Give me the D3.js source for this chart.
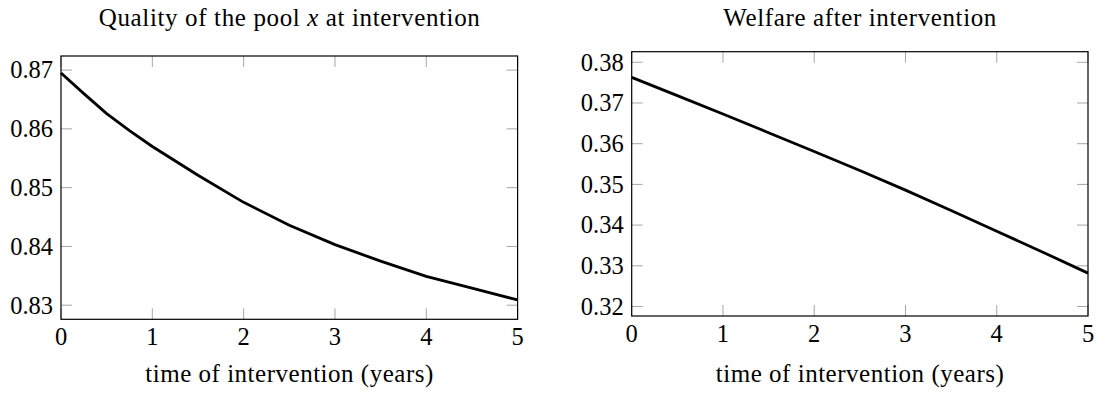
<!DOCTYPE html>
<html lang="en">

<head>
    <meta charset="UTF-8">
    <script src="https://d3js.org/d3.v7.min.js"></script>
    <title>Intervention plots</title>
    <style>
        body { margin: 0; background: #fff; }
        text { font-family: "Liberation Serif", "DejaVu Serif", serif; fill: #000; }
    </style>
</head>

<body>
    <svg class="chart"></svg>
    <script>
        // values
        var qualityYears = [0, 0.25, 0.5, 0.75, 1, 1.5, 2, 2.5, 3, 3.5, 4, 4.5, 5];
        var qualityValues = [0.8695, 0.8660, 0.8626, 0.8597, 0.8570, 0.8521, 0.8475, 0.8436, 0.8403, 0.8375, 0.8349, 0.8329, 0.8309];
        var welfareYears = [0, 0.5, 1, 1.5, 2, 2.5, 3, 3.5, 4, 4.5, 5];
        var welfareValues = [0.3763, 0.3718, 0.3673, 0.3627, 0.3581, 0.3534, 0.3486, 0.3436, 0.3385, 0.3334, 0.3282];

        var xTicks = [0, 1, 2, 3, 4, 5];
        var qualityTicks = [0.83, 0.84, 0.85, 0.86, 0.87];
        var welfareTicks = [0.32, 0.33, 0.34, 0.35, 0.36, 0.37, 0.38];

        var welfareTitle = "Welfare after intervention";
        var xLabel = "time of intervention (years)";

        var svg = d3.select(".chart")
            .attr("width", 1097)
            .attr("height", 394);

        var tickLen = 11;
        var fontSize = 24.5;
        var labelSize = 25;

        function drawPanel(p) {
            var x = d3.scaleLinear().domain([0, 5]).range([p.left, p.right]);
            var y = d3.scaleLinear().domain(p.yDomain).range([p.bottom, p.top]);
            var g = svg.append("g");

            // inward ticks on all four sides
            xTicks.forEach(function (t) {
                g.append("line")
                    .attr("x1", x(t)).attr("x2", x(t))
                    .attr("y1", p.bottom).attr("y2", p.bottom - tickLen)
                    .attr("stroke", "#a6a6a6").attr("stroke-width", 1);
                g.append("line")
                    .attr("x1", x(t)).attr("x2", x(t))
                    .attr("y1", p.top).attr("y2", p.top + tickLen)
                    .attr("stroke", "#a6a6a6").attr("stroke-width", 1);
                g.append("text")
                    .attr("x", x(t))
                    .attr("y", p.bottom + 26)
                    .attr("text-anchor", "middle")
                    .attr("font-size", fontSize)
                    .text(t);
            });
            p.yTicks.forEach(function (t) {
                g.append("line")
                    .attr("x1", p.left).attr("x2", p.left + tickLen)
                    .attr("y1", y(t)).attr("y2", y(t))
                    .attr("stroke", "#a6a6a6").attr("stroke-width", 1);
                g.append("line")
                    .attr("x1", p.right).attr("x2", p.right - tickLen)
                    .attr("y1", y(t)).attr("y2", y(t))
                    .attr("stroke", "#a6a6a6").attr("stroke-width", 1);
                g.append("text")
                    .attr("x", p.left - 8)
                    .attr("y", y(t))
                    .attr("dy", "0.34em")
                    .attr("text-anchor", "end")
                    .attr("font-size", fontSize)
                    .text(d3.format(".2f")(t));
            });

            var line = d3.line()
                .x(function (d, i) { return x(p.years[i]); })
                .y(function (d) { return y(d); });

            g.append("path")
                .datum(p.values)
                .attr("d", line)
                .attr("fill", "none")
                .attr("stroke", "#000")
                .attr("stroke-width", 2.8)
                .attr("stroke-linejoin", "round");

            g.append("rect")
                .attr("x", p.left)
                .attr("y", p.top)
                .attr("width", p.right - p.left)
                .attr("height", p.bottom - p.top)
                .attr("fill", "none")
                .attr("stroke", "#000")
                .attr("stroke-width", 1.2);

            // title and x label are set wider, the way the original book font runs
            var title = g.append("text")
                .attr("x", (p.left + p.right) / 2)
                .attr("y", 26)
                .attr("text-anchor", "middle")
                .attr("font-size", labelSize)
                .attr("textLength", p.titleWidth)
                .attr("lengthAdjust", "spacing");
            if (p.title == null) {
                title.append("tspan").text("Quality of the pool ");
                title.append("tspan").attr("font-style", "italic").text("x");
                title.append("tspan").text(" at intervention");
            } else {
                title.text(p.title);
            }

            g.append("text")
                .attr("x", (p.left + p.right) / 2)
                .attr("y", 382)
                .attr("text-anchor", "middle")
                .attr("font-size", labelSize)
                .attr("textLength", 288)
                .attr("lengthAdjust", "spacing")
                .text(xLabel);
        }

        drawPanel({
            left: 61, right: 517.6, top: 56, bottom: 319.3,
            yDomain: [0.8276, 0.8724],
            yTicks: qualityTicks,
            years: qualityYears,
            values: qualityValues,
            title: null,
            titleWidth: 381
        });

        drawPanel({
            left: 631.7, right: 1088, top: 51.7, bottom: 316,
            yDomain: [0.31767, 0.3826],
            yTicks: welfareTicks,
            years: welfareYears,
            values: welfareValues,
            title: welfareTitle,
            titleWidth: 273
        });
    </script>
</body>

</html>
